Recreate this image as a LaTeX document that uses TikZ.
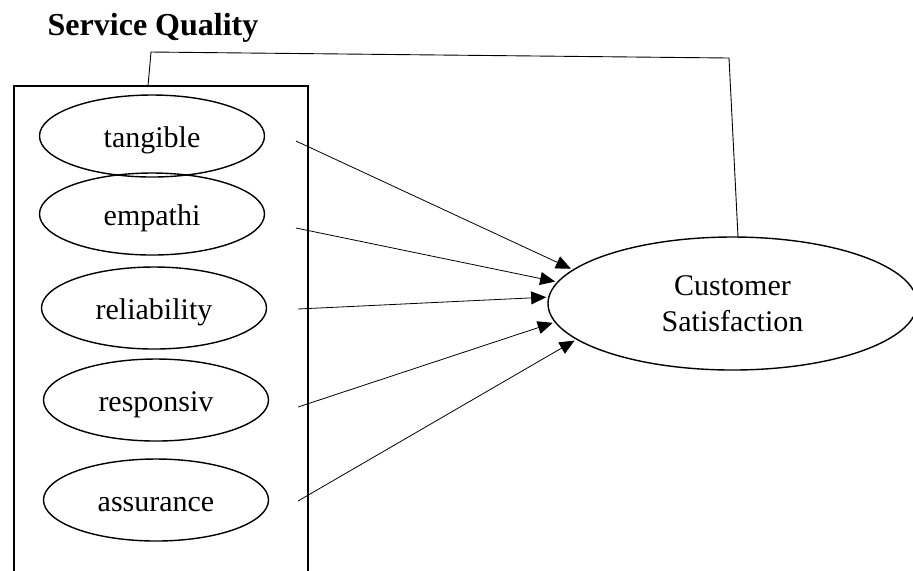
\documentclass[tikz,border=0pt]{standalone}
\usepackage{fontspec}
\setmainfont{Liberation Serif}
\usetikzlibrary{arrows.meta,shapes.geometric}
\begin{document}
\begin{tikzpicture}[x=0.5pt, y=-0.5pt,
    dim/.style={ellipse, draw, line width=0.7pt, inner sep=0pt,
      text height=11pt, text depth=0pt,
      minimum width=112.5pt, minimum height=41pt},
    link/.style={line width=0.4pt, -{Triangle[length=7.5pt, width=6.5pt]}, shorten >=1pt}]

  \fontsize{15}{18}\selectfont

  \useasboundingbox (0,0) rectangle (913,570);

  \node[font=\fontsize{16}{19}\bfseries\selectfont] (title) at (153,28) {Service Quality};

  %% box round the dimensions
  \draw[line width=0.8pt] (14,575) -- (14,86) -- (308,86) -- (308,575);
  \coordinate (boxtop) at (148,86);

  \node[dim] (tangible)    at (152,136) {tangible};
  \node[dim] (empathi)     at (152,214) {empathi};
  \node[dim] (reliability) at (154,308) {reliability};
  \node[dim] (responsiv)   at (156,400) {responsiv};
  \node[dim] (assurance)   at (156,500) {assurance};

  \node[ellipse, draw, line width=0.7pt, inner sep=0pt, align=center,
    minimum width=184.5pt, minimum height=66.5pt] (cs) at (732.5,303.5)
    {Customer\\Satisfaction};

  \coordinate (t1) at (296,141);
  \coordinate (e1) at (296,228);
  \coordinate (r1) at (298,309);
  \coordinate (p1) at (298,407);
  \coordinate (a1) at (298,501);
  \coordinate (cstop) at (738,237);

  \draw[link] (t1) -- (cs.168.8); %% tangible->cs
  \draw[link] (e1) -- (cs.173.5); %% empathi->cs
  \draw[link] (r1) -- (cs.178.8); %% reliability->cs
  \draw[link] (p1) -- (cs.186.1); %% responsiv->cs
  \draw[link] (a1) -- (cs.193.9); %% assurance->cs

  %% service quality -> cs
  \draw[line width=0.45pt] (boxtop) -- (151,52) -- (729,58) -- (cstop);
\end{tikzpicture}
\end{document}
